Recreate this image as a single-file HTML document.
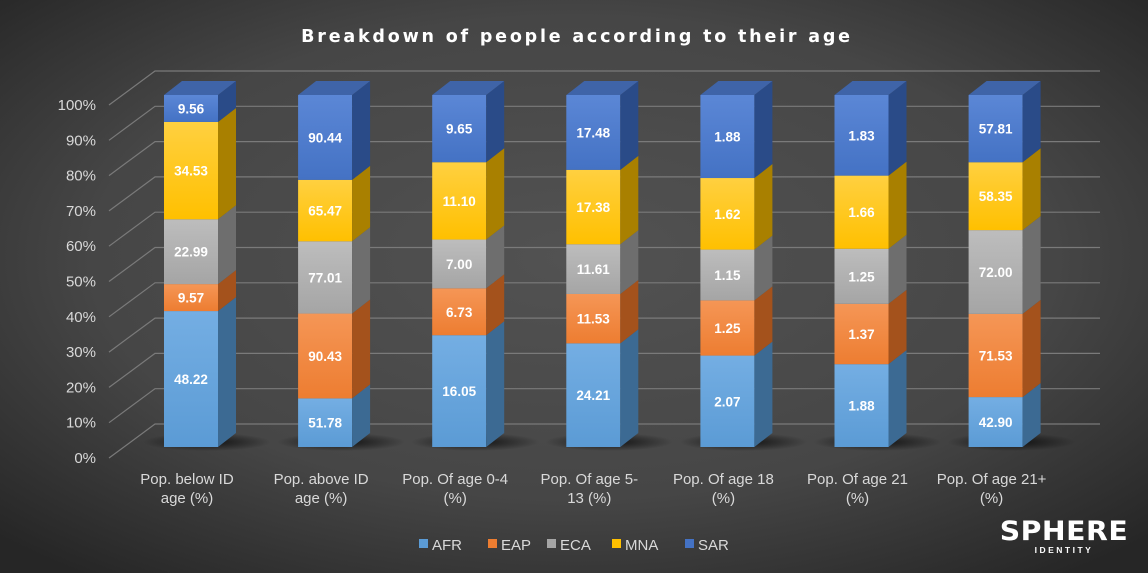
<!DOCTYPE html>
<html><head><meta charset="utf-8"><style>
html,body{margin:0;padding:0;width:1148px;height:573px;overflow:hidden;background:#2b2b2b}
svg{display:block;font-family:"Liberation Sans",sans-serif}
</style></head><body>
<svg id="c" width="1148" height="573" viewBox="0 0 1148 573">
<defs>
<radialGradient id="bg" cx="50%" cy="45%" r="70%"><stop offset="0" stop-color="#525252"/><stop offset="0.6" stop-color="#464646"/><stop offset="1" stop-color="#262626"/></radialGradient>
<radialGradient id="sh" cx="50%" cy="50%" r="50%"><stop offset="0" stop-color="#000" stop-opacity="0.75"/><stop offset="1" stop-color="#000" stop-opacity="0"/></radialGradient>
</defs>
<rect width="1148" height="573" fill="url(#bg)"/>
<text x="577" y="42" text-anchor="middle" fill="#fff" font-size="17.5" font-weight="bold" letter-spacing="2.8" style="font-family:'DejaVu Sans','Liberation Sans',sans-serif">Breakdown of people according to their age</text>
<g id="grid"></g><g id="bars"></g><g id="axis"></g><g id="legend"></g>
<g>
<text x="1064" y="540" text-anchor="middle" fill="#fff" font-size="27" font-weight="900" letter-spacing="0.5" style="font-family:'DejaVu Sans','Liberation Sans',sans-serif" transform="translate(1064 540) scale(1.05 1) translate(-1064 -540)">SPHERE</text>
<text x="1064" y="553" text-anchor="middle" fill="#fff" font-size="8.5" font-weight="bold" letter-spacing="2.5">IDENTITY</text>
</g>
</svg>
<script>
const categories=[["Pop. below ID","age (%)"],["Pop. above ID","age (%)"],["Pop. Of age 0-4","(%)"],["Pop. Of age 5-","13 (%)"],["Pop. Of age 18","(%)"],["Pop. Of age 21","(%)"],["Pop. Of age 21+","(%)"]];
const seriesNames=["AFR","EAP","ECA","MNA","SAR"];
const AFR=[48.22,51.78,16.05,24.21,2.07,1.88,42.90];
const EAP=[9.57,90.43,6.73,11.53,1.25,1.37,71.53];
const ECA=[22.99,77.01,7.00,11.61,1.15,1.25,72.00];
const MNA=[34.53,65.47,11.10,17.38,1.62,1.66,58.35];
const SAR=[9.56,90.44,9.65,17.48,1.88,1.83,57.81];
const tickLabels=["0%","10%","20%","30%","40%","50%","60%","70%","80%","90%","100%"];
const series=[AFR,EAP,ECA,MNA,SAR];
const front=["#5b9bd5","#ed7d31","#a5a5a5","#ffc000","#4472c4"];
const frontLight=["#74aee3","#f59656","#bdbdbd","#ffd040","#5b87d6"];
const side=["#3c6a93","#a4521c","#6e6e6e","#a98000","#2a4b88"];
const NS="http://www.w3.org/2000/svg";
function mk(t,a,p){const e=document.createElementNS(NS,t);for(const k in a)e.setAttribute(k,a[k]);p.appendChild(e);return e;}
const y0=447,y100=95;
function yBar(p){return y0+(y100-y0)*p/100;}
function xBar(i){return 164+i*134.1;}
const BW=54,DX=18,DY=-14;
const grid=document.getElementById('grid'),axis=document.getElementById('axis'),bars=document.getElementById('bars'),leg=document.getElementById('legend');
tickLabels.forEach((t,k)=>{
 const yy=458-(458-105)*k/10;
 const by=yy-34;
 const l=mk('polyline',{points:`109,${yy} 155,${by} 1100,${by}`,fill:'none',stroke:'#7a7a7a','stroke-width':1.2},grid);
 
 
 const tx=mk('text',{x:96,y:yy+5,'text-anchor':'end',fill:'#d9d9d9','font-size':15},axis);
 tx.textContent=t;
 
 
});
const defs=document.querySelector('defs');
front.forEach((c,s)=>{const g=mk('linearGradient',{id:'g'+s,x1:0,y1:0,x2:0,y2:1},defs);mk('stop',{offset:0,'stop-color':frontLight[s]},g);mk('stop',{offset:1,'stop-color':c},g);});
categories.forEach((cat,i)=>{
 const x=xBar(i);
 const tot=series.reduce((a,s)=>a+s[i],0);
 const sh=mk('ellipse',{cx:x+BW/2+16,cy:y0-5,rx:64,ry:9,fill:'url(#sh)'},bars);
 
 
 let cum=0;
 series.forEach((s,k)=>{
  const p0=cum/tot*100; cum+=s[i]; const p1=cum/tot*100;
  const yb=yBar(p0),yt=yBar(p1);
  const g=mk('g',{},bars);
  
  
  mk('rect',{x:x,y:yt,width:BW,height:yb-yt,fill:'url(#g'+k+')'},g);
  mk('polygon',{points:`${x+BW},${yt} ${x+BW+DX},${yt+DY} ${x+BW+DX},${yb+DY} ${x+BW},${yb}`,fill:side[k]},g);
  if(k===4) mk('polygon',{points:`${x},${yt} ${x+DX},${yt+DY} ${x+BW+DX},${yt+DY} ${x+BW},${yt}`,fill:'#3f64a8'},g);
  const t=mk('text',{x:x+BW/2,y:(yt+yb)/2+5,'text-anchor':'middle',fill:'#fff','font-size':13.5,'font-weight':'bold'},g);
  t.textContent=s[i].toFixed(2);
 });
 cat.forEach((ln,j)=>{
  const t=mk('text',{x:x+BW/2-4,y:484+j*19,'text-anchor':'middle',fill:'#d9d9d9','font-size':15},axis);
  t.textContent=ln;
  
  
 });
});
const lx=[419,488,547,612,685];
seriesNames.forEach((n,k)=>{
 const g=mk('g',{},leg);
 
 
 mk('rect',{x:lx[k],y:539,width:9,height:9,fill:front[k]},g);
 const t=mk('text',{x:lx[k]+13,y:550,fill:'#d9d9d9','font-size':15},g);
 t.textContent=n;
});
</script>
</body></html>
